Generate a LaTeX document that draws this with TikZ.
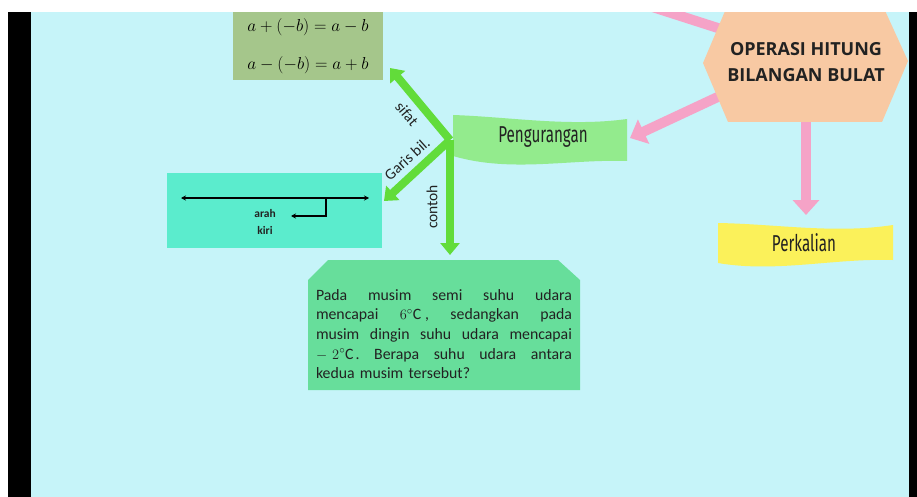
\documentclass[tikz,border=0pt]{standalone}
\usepackage{fontspec}
\setmainfont{Carlito}
\newfontfamily\hexfont{Open Sans}
\newfontfamily\bannerfont[FakeStretch=0.66]{Fira Sans}
\usetikzlibrary{arrows.meta}
\definecolor{bgc}{HTML}{C6F4F9}
\definecolor{hexc}{HTML}{F8C9A3}
\definecolor{pinkc}{HTML}{F5A3C7}
\definecolor{greenA}{HTML}{62DC3A}
\definecolor{pengc}{HTML}{93EB8D}
\definecolor{perkc}{HTML}{FBF15A}
\definecolor{olivec}{HTML}{A5C68B}
\definecolor{turqc}{HTML}{5BECCD}
\definecolor{boxgc}{HTML}{67DE9B}
\definecolor{inkc}{HTML}{222222}
\newcommand{\jline}[1]{\noindent\makebox[\linewidth][l]{#1}\\}
\begin{document}
\begin{tikzpicture}[x=1pt,y=-1pt,
  pinkarrow/.style={pinkc,line width=10pt,-{Triangle[width=26pt,length=15pt]}},
  pinkband/.style={pinkc,line width=10pt},
  greenarrow/.style={greenA,line width=8pt,-{Triangle[width=19pt,length=12pt]}},
  bannertext/.style={font=\bannerfont\fontsize{23}{25}\selectfont,text=inkc,inner sep=0pt},
  armlabel/.style={font=\fontsize{15.5}{17}\selectfont,text=inkc,inner sep=0pt},
  thinarrow/.style={black,line width=1.1pt,-{Stealth[width=5pt,length=5pt]}},
]
\useasboundingbox (0,0) rectangle (917,497);
\fill[white] (0,0) rectangle (917,497);
\fill[black] (8,12) rectangle (31,497);
\fill[bgc] (31,12) rectangle (909,497);
\fill[black] (909,12) rectangle (917,497);

% pink connectors (drawn under the hexagon)
\coordinate (hexUp) at (724,30);
\coordinate (offTop) at (640,3);
\coordinate (hexL) at (722,95);
\coordinate (pengTip) at (630,138);
\coordinate (hexB) at (806,118);
\coordinate (perkTip) at (806,215);
\draw[pinkband] (hexUp) -- (offTop);
\draw[pinkarrow] (hexL) -- (pengTip);
\draw[pinkarrow] (hexB) -- (perkTip);

% hexagon
\fill[hexc] (703,63) -- (728,4) -- (882,4) -- (908,61) -- (882,122) -- (728,122) -- cycle;
\node[font=\hexfont\bfseries\fontsize{18}{26.7}\selectfont,text=inkc,align=center,inner sep=0pt]
  (hex) at (806,62) {OPERASI HITUNG\\BILANGAN BULAT};

% banners
\begin{scope}[shift={(453,115)}]
\fill[pengc] (0,0) .. controls (58,2) and (116,12) .. (174,4) -- (174,46)
  .. controls (116,44) and (58,58) .. (0,41) -- cycle;
\end{scope}
\node[bannertext] (peng) at (543,137) {Pengurangan};
\begin{scope}[shift={(718,223)}]
\fill[perkc] (0,0) .. controls (58,1) and (117,11) .. (175,2) -- (175,37)
  .. controls (117,35) and (58,50) .. (0,40) -- cycle;
\end{scope}
\node[bannertext] (perk) at (804,243) {Perkalian};

% boxes
\node[fill=olivec,minimum width=150pt,minimum height=68pt,inner sep=0pt,align=center,
  font=\fontsize{16.5}{38}\selectfont] (sifatbox) at (308,46)
  {$a+(-b)=a-b$\\$a-(-b)=a+b$};
\node[fill=turqc,minimum width=215pt,minimum height=75pt,inner sep=0pt] (garisbox) at (274.5,210.5) {};
\fill[boxgc] (308,280) -- (328,260) -- (558,260) -- (580,280) -- (580,390) -- (308,390) -- cycle;
\node[text width=256pt,inner sep=0pt,font=\fontsize{15.8}{19.7}\selectfont,text=inkc]
  (contohbox) at (444,334) {%
  \jline{Pada\hfill musim\hfill semi\hfill suhu\hfill udara}
  \jline{mencapai\hfill $6^{\circ}\mathrm{C}$\hspace{4pt},\hfill sedangkan\hfill pada}
  \jline{musim\hfill dingin\hfill suhu\hfill udara\hfill mencapai}
  \jline{$-$\hspace{5pt}$2^{\circ}\mathrm{C}$\hspace{2pt}.\hfill Berapa\hfill suhu\hfill udara\hfill antara}
  \noindent kedua musim tersebut?};

% number line inside the turquoise box
\coordinate (nlL) at (181,198);
\coordinate (nlR) at (369,198);
\coordinate (bendS) at (326,198);
\coordinate (bendE) at (291,216);
\draw[black,line width=1.1pt,{Stealth[width=5pt,length=5pt]}-{Stealth[width=5pt,length=5pt]}] (nlL) -- (nlR);
\draw[thinarrow] (bendS) |- (bendE);
\node[font=\bfseries\fontsize{11.5}{17}\selectfont,text=inkc,align=center,inner sep=0pt] (arah) at (265,222) {arah\\kiri};

% green arms
\coordinate (gO) at (450,140);
\coordinate (sifTip) at (390,68);
\coordinate (garTip) at (384,201);
\coordinate (conTip) at (450,255);
\draw[greenarrow] (gO) -- (sifTip);
\draw[greenarrow] (gO) -- (garTip);
\draw[greenarrow] (gO) -- (conTip);
\node[armlabel,rotate=-50] (lsifat) at (407,114) {sifat};
\node[armlabel,rotate=42] (lgaris) at (407,159) {Garis bil.};
\node[armlabel,rotate=90] (lcontoh) at (432,207) {contoh};

% top white strip
\fill[white] (0,0) rectangle (917,12);
\end{tikzpicture}
\end{document}
